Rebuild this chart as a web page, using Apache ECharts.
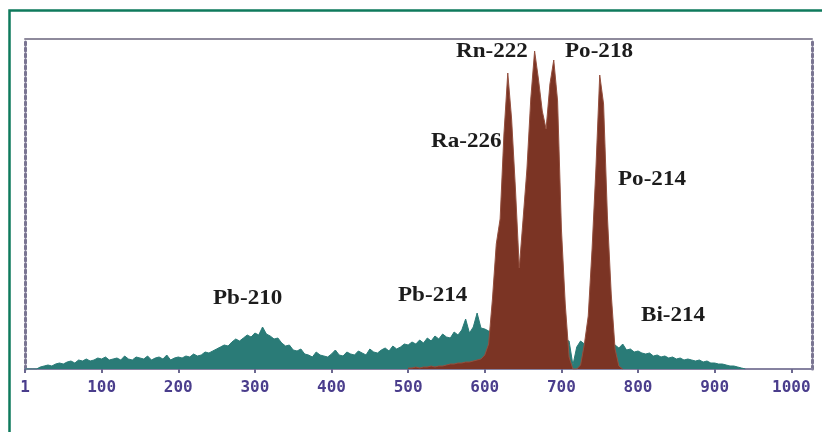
<!DOCTYPE html>
<html><head><meta charset="utf-8">
<script src="https://cdn.jsdelivr.net/npm/echarts@6/dist/echarts.min.js"></script>
<style>html,body{margin:0;padding:0;background:#fff}#c{width:822px;height:432px}</style>
</head><body><div id="c"></div>
<script>
// channel bin width and start channels of each series
const BIN = 5;
const TEAL_START = 0;
const BROWN_START = 500;
// background spectrum (teal), counts per bin from channel 0
const tealCounts = [
0,0,0,0,2,3,4,3,5,6,5,7,8,6,9,8,10,8,9,11,
10,12,9,10,11,9,13,10,9,12,11,10,13,9,11,12,10,14,9,11,
12,11,13,12,15,13,14,17,16,18,20,22,24,23,27,30,28,31,34,32,
36,34,42,35,33,30,31,26,23,24,19,18,20,15,14,12,17,14,13,12,
15,19,14,13,17,15,14,18,16,14,20,17,16,19,21,18,23,20,22,25,
24,27,25,29,26,31,28,33,30,35,32,31,37,34,39,50,36,42,56,41,
40,38,37,36,36,35,35,34,34,33,33,32,32,31,31,30,30,30,30,30,
30,29,28,4,22,28,25,30,27,28,26,27,25,26,24,21,25,19,20,17,
18,16,15,16,13,14,12,13,11,12,10,11,9,10,9,8,9,7,8,6,
6,5,5,4,3,3,2,1,0
];
// alpha peaks (brown), counts per bin from channel 500
const brownCounts = [
1,1,2,1,2,2,3,2,3,3,4,5,5,6,6,7,7,8,9,10,
14,25,70,125,150,235,296,250,180,101,150,200,270,318,290,258,240,285,309,268,
140,65,12,0,0,4,25,53,120,200,294,265,153,75,20,3,0
];
const tickLabels = ['1','100','200','300','400','500','600','700','800','900','1000'];
const peakLabels = [
  {name:'Rn-222', x:456, y:52},
  {name:'Po-218', x:565, y:52},
  {name:'Ra-226', x:431, y:142},
  {name:'Po-214', x:618, y:180},
  {name:'Pb-210', x:213, y:299},
  {name:'Pb-214', x:398, y:296},
  {name:'Bi-214', x:641, y:316}
];

const toPairs = (arr, start) => arr.map((v, i) => [start + i * BIN, v]);

const chart = echarts.init(document.getElementById('c'), null, {renderer:'canvas'});
const dotted = {type:[3,3], width:3, color:'#7a7592'};
chart.setOption({
  animation:false,
  backgroundColor:'#fff',
  grid:{left:25, right:10, top:39, bottom:63},
  xAxis:[{
    type:'value', min:0, max:1027, interval:100, position:'bottom',
    axisLine:{show:true, onZero:false, lineStyle:{color:'#8682a0', width:2}},
    axisTick:{show:true, length:4, lineStyle:{color:'#6c6890', width:2}},
    axisLabel:{margin:11, color:'#4a3d8c', fontFamily:'DejaVu Sans Mono', fontWeight:'bold', fontSize:16,
      formatter:(v)=> tickLabels[Math.round(v/100)] || ''},
    splitLine:{show:false}
  },{
    type:'value', min:0, max:1027, position:'top',
    axisLine:{show:true, onZero:false, lineStyle:{color:'#8e8a9c', width:2}},
    axisTick:{show:false}, axisLabel:{show:false}, splitLine:{show:false}
  }],
  yAxis:[{
    type:'value', min:0, max:330, position:'left',
    axisLine:{show:true, onZero:false, lineStyle:dotted},
    axisTick:{show:false}, axisLabel:{show:false}, splitLine:{show:false}
  },{
    type:'value', min:0, max:330, position:'right',
    axisLine:{show:true, onZero:false, lineStyle:dotted},
    axisTick:{show:false}, axisLabel:{show:false}, splitLine:{show:false}
  }],
  series:[{
    type:'line', xAxisIndex:0, yAxisIndex:0, data:toPairs(tealCounts, TEAL_START),
    symbol:'none', smooth:false, lineStyle:{color:'#2a7b77', width:1},
    areaStyle:{color:'#2a7b77', opacity:1}, z:2
  },{
    type:'line', xAxisIndex:0, yAxisIndex:0, data:toPairs(brownCounts, BROWN_START),
    symbol:'none', smooth:false, lineStyle:{color:'#94503f', width:1},
    areaStyle:{color:'#7b3424', opacity:1}, z:3
  }],
  graphic:[
    {type:'rect', shape:{x:9.5, y:10.5, width:840, height:460},
     style:{fill:'none', stroke:'#0e7a5c', lineWidth:2.5}, z:100}
  ].concat(peakLabels.map(p => ({
    type:'text', x:p.x, y:p.y, scaleX:1.1, z:50,
    style:{text:p.name, x:0, y:0, fill:'#1c1c1c', font:'bold 21px "Liberation Serif"',
      textAlign:'left', textVerticalAlign:'middle'}
  })))
});
</script></body></html>
